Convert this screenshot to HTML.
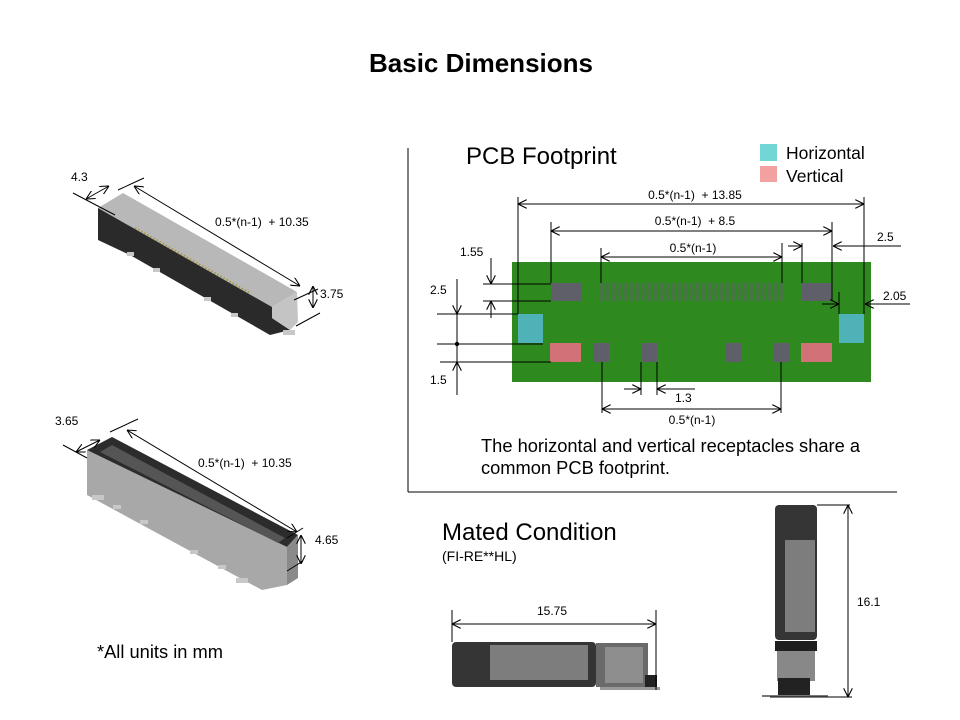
<!DOCTYPE html>
<html><head><meta charset="utf-8"><style>
html,body{margin:0;padding:0;background:#fff;}
svg{display:block;font-family:"Liberation Sans",Arial,sans-serif;}
text{white-space:pre;}
</style></head><body>
<svg width="960" height="720" viewBox="0 0 960 720" xmlns="http://www.w3.org/2000/svg">
<defs>
<marker id="a" viewBox="0 0 10 10" refX="10" refY="5" markerWidth="9" markerHeight="9" orient="auto-start-reverse" markerUnits="userSpaceOnUse"><path d="M0,0 L10,5 L0,10" fill="none" stroke="#000" stroke-width="1.2"/></marker>
</defs>
<text x="481" y="72" font-size="26" font-weight="bold" text-anchor="middle">Basic Dimensions</text>

<line x1="408" y1="148" x2="408" y2="492" stroke="#000"/>
<line x1="408" y1="492" x2="897" y2="492" stroke="#000"/>

<text x="466" y="164" font-size="24">PCB Footprint</text>
<rect x="760" y="144" width="17" height="17" fill="#72d6d6"/>
<rect x="760" y="166" width="17" height="16" fill="#f2a0a0"/>
<text x="786" y="159" font-size="17.5">Horizontal</text>
<text x="786" y="182" font-size="17.5">Vertical</text>

<rect x="512" y="262" width="359" height="120" fill="#2e8a1e"/>
<g fill="#5f5f6a">
<rect x="551" y="283" width="30" height="18"/>
<rect x="802" y="283" width="30" height="18"/>
<rect x="593" y="343" width="16" height="19"/>
<rect x="642" y="343" width="15" height="19"/>
<rect x="725" y="343" width="16" height="19"/>
<rect x="773" y="343" width="16" height="19"/>
</g>
<g fill="none" stroke="#5f5f6a" stroke-width="1">
<path d="M600,283 V301 M603,283 V301 M606,283 V301 M609,283 V301 M612,283 V301 M615,283 V301 M618,283 V301 M621,283 V301 M624,283 V301 M627,283 V301 M630,283 V301 M633,283 V301 M636,283 V301 M639,283 V301 M642,283 V301 M645,283 V301 M648,283 V301 M651,283 V301 M654,283 V301 M657,283 V301 M660,283 V301 M663,283 V301 M666,283 V301 M669,283 V301 M672,283 V301 M675,283 V301 M678,283 V301 M681,283 V301 M684,283 V301 M687,283 V301 M690,283 V301 M693,283 V301 M696,283 V301 M699,283 V301 M702,283 V301 M705,283 V301 M708,283 V301 M711,283 V301 M714,283 V301 M717,283 V301 M720,283 V301 M723,283 V301 M726,283 V301 M729,283 V301 M732,283 V301 M735,283 V301 M738,283 V301 M741,283 V301 M744,283 V301 M747,283 V301 M750,283 V301 M753,283 V301 M756,283 V301 M759,283 V301 M762,283 V301 M765,283 V301 M768,283 V301 M771,283 V301 M774,283 V301 M777,283 V301 M780,283 V301 M783,283 V301"/>
</g>
<rect x="518" y="314" width="25" height="29" fill="#4fb2b6"/>
<rect x="839" y="314" width="25" height="29" fill="#4fb2b6"/>
<rect x="550" y="343" width="31" height="19" fill="#d37276"/>
<rect x="801" y="343" width="31" height="19" fill="#d37276"/>

<g stroke="#000" stroke-width="1" fill="none">
<path d="M518,197 V314 M864,197 V314 M551,222 V283 M832,222 V301 M601,248 V283 M782,243 V283 M802,243 V283 M839,292 V314"/>
<path d="M483,284 H551 M483,301 H551 M437,314 H518 M437,344 H543 M440,362 H551"/>
<path d="M641,362 V395 M657,362 V395 M602,362 V413 M781,362 V413"/>
<line x1="518" y1="204" x2="864" y2="204" marker-start="url(#a)" marker-end="url(#a)"/>
<line x1="551" y1="231" x2="832" y2="231" marker-start="url(#a)" marker-end="url(#a)"/>
<line x1="601" y1="257" x2="782" y2="257" marker-start="url(#a)" marker-end="url(#a)"/>
<line x1="788" y1="246" x2="802" y2="246" marker-end="url(#a)"/>
<line x1="901" y1="246" x2="833" y2="246" marker-end="url(#a)"/>
<line x1="822" y1="304" x2="839" y2="304" marker-end="url(#a)"/>
<line x1="910" y1="304" x2="865" y2="304" marker-end="url(#a)"/>
<line x1="491" y1="258" x2="491" y2="284" marker-end="url(#a)"/>
<line x1="491" y1="318" x2="491" y2="301" marker-end="url(#a)"/>
<line x1="457" y1="279" x2="457" y2="314" marker-end="url(#a)"/>
<line x1="457" y1="314" x2="457" y2="362"/>
<line x1="457" y1="395" x2="457" y2="362" marker-end="url(#a)"/>
<line x1="624" y1="389" x2="641" y2="389" marker-end="url(#a)"/>
<line x1="695" y1="389" x2="657" y2="389" marker-end="url(#a)"/>
<line x1="602" y1="409" x2="781" y2="409" marker-start="url(#a)" marker-end="url(#a)"/>
</g>
<circle cx="457" cy="344" r="2.2" fill="#000"/>
<g font-size="12" fill="#000">
<text x="695" y="199" text-anchor="middle">0.5*(n-1)  + 13.85</text>
<text x="695" y="225" text-anchor="middle">0.5*(n-1)  + 8.5</text>
<text x="693" y="252" text-anchor="middle">0.5*(n-1)</text>
<text x="877" y="241">2.5</text>
<text x="883" y="300">2.05</text>
<text x="460" y="256">1.55</text>
<text x="430" y="294">2.5</text>
<text x="430" y="384">1.5</text>
<text x="675" y="402">1.3</text>
<text x="692" y="424" text-anchor="middle">0.5*(n-1)</text>
</g>
<text x="481" y="452" font-size="18.3">The horizontal and vertical receptacles share a</text>
<text x="481" y="474" font-size="18.3">common PCB footprint.</text>

<!-- connector 1 -->
<polygon points="98,208 123,193 297,292 272,307" fill="#b8b8b8"/>
<polygon points="98,208 272,307 272,318 290,330 270,335 130,255 98,240" fill="#2a2a2a"/>
<polygon points="272,307 297,292 298,322 290,330 272,318" fill="#c4c4c4"/>
<path d="M135,228 L250,293" stroke="#a69a40" stroke-width="2" stroke-dasharray="1.5,2"/>
<g fill="#c8c8c8"><rect x="127" y="252" width="7" height="4"/><rect x="153" y="268" width="7" height="4"/><rect x="204" y="297" width="7" height="4"/><rect x="231" y="313" width="7" height="4"/><rect x="283" y="330" width="12" height="5"/></g>
<!-- connector 2 -->
<polygon points="87,450 87,495 262,590 287,585 287,547" fill="#a8a8a8"/>
<polygon points="87,450 112,437 298,535 287,547" fill="#2c2c2c"/>
<polygon points="100,452 112,445 285,538 278,543" fill="#555"/>
<polygon points="287,547 298,535 298,578 287,585" fill="#8a8a8a"/>
<g fill="#c8c8c8"><rect x="92" y="495" width="12" height="5"/><rect x="113" y="505" width="8" height="4"/><rect x="140" y="520" width="8" height="4"/><rect x="190" y="550" width="8" height="4"/><rect x="218" y="565" width="8" height="4"/><rect x="236" y="578" width="12" height="5"/></g>

<g stroke="#000" stroke-width="1" fill="none">
<path d="M73,193 L115,215 M118,190 L144,178 M294,300 L318,289 M296,326 L320,313"/>
<line x1="86" y1="199" x2="109" y2="186" marker-start="url(#a)" marker-end="url(#a)"/>
<line x1="134" y1="186" x2="300" y2="286" marker-start="url(#a)" marker-end="url(#a)"/>
<line x1="313" y1="286" x2="313" y2="308" marker-start="url(#a)" marker-end="url(#a)"/>
<path d="M63,445 L87,458 M110,432 L138,419 M287,538 L303,528 M287,571 L303,561"/>
<line x1="76" y1="452" x2="100" y2="440" marker-start="url(#a)" marker-end="url(#a)"/>
<line x1="127" y1="430" x2="297" y2="532" marker-start="url(#a)" marker-end="url(#a)"/>
<line x1="301" y1="535" x2="301" y2="564" marker-start="url(#a)" marker-end="url(#a)"/>
</g>
<g font-size="12">
<text x="71" y="181">4.3</text>
<text x="215" y="226">0.5*(n-1)  + 10.35</text>
<text x="320" y="298">3.75</text>
<text x="55" y="425">3.65</text>
<text x="198" y="467">0.5*(n-1)  + 10.35</text>
<text x="315" y="544">4.65</text>
</g>
<text x="97" y="658" font-size="18.3">*All units in mm</text>

<!-- mated -->
<text x="442" y="540" font-size="24">Mated Condition</text>
<text x="442" y="561" font-size="14">(FI-RE**HL)</text>
<rect x="452" y="642" width="144" height="45" rx="4" fill="#353535"/>
<rect x="490" y="645" width="98" height="35" fill="#7d7d7d"/>
<rect x="596" y="643" width="52" height="44" fill="#6a6a6a"/>
<rect x="605" y="647" width="38" height="36" fill="#8e8e8e"/>
<rect x="645" y="675" width="12" height="12" fill="#222"/>
<rect x="600" y="687" width="60" height="3" fill="#999"/>
<g stroke="#000" stroke-width="1" fill="none">
<path d="M452,610 V642 M656,610 V690"/>
<line x1="452" y1="624" x2="656" y2="624" marker-start="url(#a)" marker-end="url(#a)"/>
</g>
<text x="552" y="615" font-size="12" text-anchor="middle">15.75</text>

<rect x="775" y="505" width="42" height="135" rx="4" fill="#353535"/>
<rect x="785" y="540" width="30" height="92" fill="#7d7d7d"/>
<rect x="775" y="641" width="42" height="10" fill="#1e1e1e"/>
<rect x="777" y="651" width="38" height="30" fill="#888"/>
<rect x="778" y="678" width="32" height="17" fill="#222"/>
<path d="M762,696 H828" stroke="#777" stroke-width="2"/>
<g stroke="#000" stroke-width="1" fill="none">
<path d="M817,505 H850 M770,697 H852"/>
<line x1="848" y1="505" x2="848" y2="697" marker-start="url(#a)" marker-end="url(#a)"/>
</g>
<text x="857" y="606" font-size="12">16.1</text>
</svg>
</body></html>
